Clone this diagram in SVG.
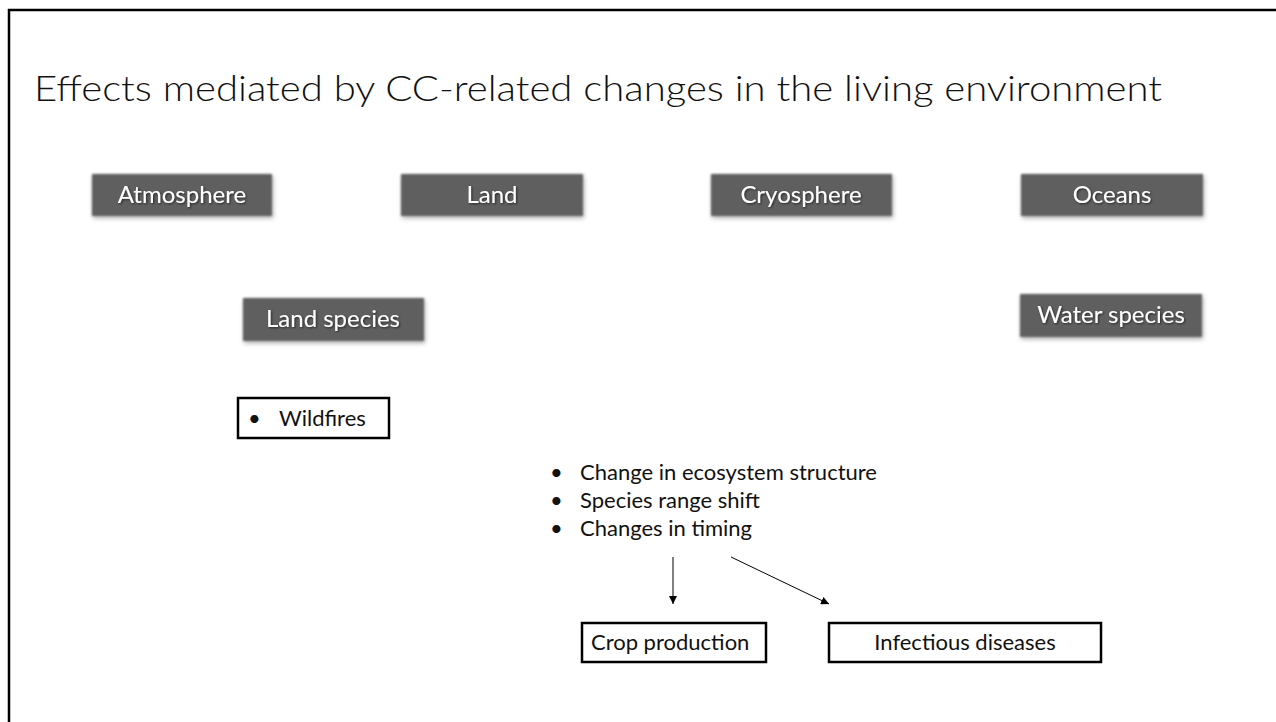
<svg xmlns="http://www.w3.org/2000/svg" width="1276" height="722" viewBox="0 0 1276 722">
<style>
.title{font-family:Lato,"Open Sans","Liberation Sans",sans-serif;font-size:36px;font-weight:300;fill:#111}
.dark rect{fill:#5e5e5e}
.dark text{font-family:Lato,"Open Sans","Liberation Sans",sans-serif;font-size:24px;fill:#fff;text-anchor:middle}
.lbox rect{fill:#fff;stroke:#000;stroke-width:2.5}
.txt{font-family:Lato,"Open Sans","Liberation Sans",sans-serif;font-size:22px;fill:#111}
.conn line{stroke:#000;stroke-width:1}
</style>
<defs>
<filter id="sh" x="-10%" y="-30%" width="120%" height="160%">
<feGaussianBlur in="SourceGraphic" stdDeviation="0.8" result="b"/>
<feDropShadow in="b" dx="1" dy="2" stdDeviation="2" flood-color="#000" flood-opacity="0.35"/>
</filter>
<filter id="tsh" x="-10%" y="-30%" width="120%" height="160%">
<feDropShadow dx="1" dy="1" stdDeviation="1" flood-color="#000" flood-opacity="0.6"/>
</filter>
<marker id="ah" viewBox="0 0 10 10" refX="10" refY="5" markerWidth="8" markerHeight="8" markerUnits="userSpaceOnUse" orient="auto">
<path d="M0,0 L10,5 L0,10 z" fill="#000"/>
</marker>
</defs>
<rect x="0" y="0" width="1276" height="722" fill="#fff"/>
<g id="frame">
<line x1="8" y1="10" x2="1276" y2="10" stroke="#000" stroke-width="2.5"/>
<line x1="9" y1="9" x2="9" y2="722" stroke="#000" stroke-width="2.5"/>
</g>
<text class="title" x="34" y="101" textLength="1128" lengthAdjust="spacingAndGlyphs">Effects mediated by CC-related changes in the living environment</text>
<g id="atmosphere" class="dark"><rect x="92" y="174" width="180" height="42" filter="url(#sh)"/><text x="182" y="203" filter="url(#tsh)">Atmosphere</text></g>
<g id="land" class="dark"><rect x="401" y="174" width="182" height="42" filter="url(#sh)"/><text x="492" y="203" filter="url(#tsh)">Land</text></g>
<g id="cryosphere" class="dark"><rect x="711" y="174" width="181" height="42" filter="url(#sh)"/><text x="801" y="203" filter="url(#tsh)">Cryosphere</text></g>
<g id="oceans" class="dark"><rect x="1021" y="174" width="182" height="42" filter="url(#sh)"/><text x="1112" y="203" filter="url(#tsh)">Oceans</text></g>
<g id="land-species" class="dark"><rect x="243" y="298" width="181" height="43" filter="url(#sh)"/><text x="333" y="327" filter="url(#tsh)">Land species</text></g>
<g id="water-species" class="dark"><rect x="1020" y="294" width="182" height="43" filter="url(#sh)"/><text x="1111" y="323" filter="url(#tsh)">Water species</text></g>
<g id="wildfires" class="lbox"><rect x="238" y="398" width="151" height="40"/><text class="txt" x="248" y="426">•</text><text class="txt" x="279" y="426">Wildfires</text></g>
<g id="effects-list">
<text class="txt" x="550" y="480">•</text><text class="txt" x="580" y="480">Change in ecosystem structure</text>
<text class="txt" x="550" y="508">•</text><text class="txt" x="580" y="508">Species range shift</text>
<text class="txt" x="550" y="536">•</text><text class="txt" x="580" y="536">Changes in timing</text>
</g>
<g id="crop-production" class="lbox"><rect x="582" y="623" width="184" height="39"/><text class="txt" x="591" y="650">Crop production</text></g>
<g id="infectious-diseases" class="lbox"><rect x="829" y="623" width="272" height="39"/><text class="txt" x="965" y="650" text-anchor="middle">Infectious diseases</text></g>
<g id="connectors" class="conn">
<line x1="673" y1="557" x2="673" y2="604" marker-end="url(#ah)"/>
<line x1="731" y1="557" x2="829" y2="604" marker-end="url(#ah)"/>
</g>
</svg>
